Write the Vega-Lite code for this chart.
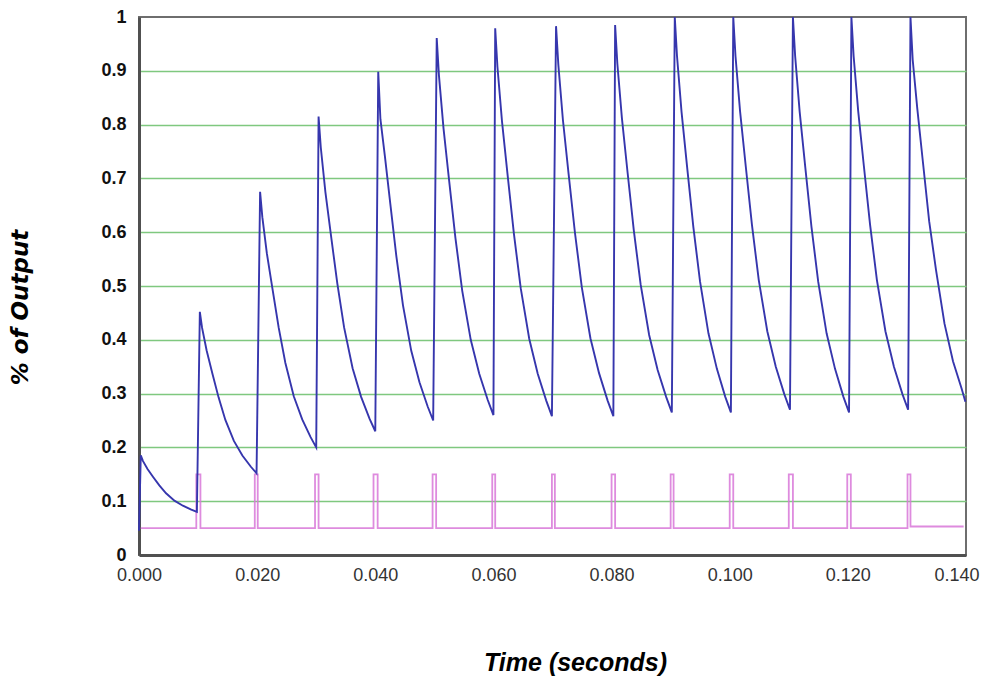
{
  "$schema": "https://vega.github.io/schema/vega-lite/v6.json",
  "width": 827,
  "height": 538,
  "autosize": "none",
  "padding": {"left": 139, "top": 17, "right": 15, "bottom": 122},
  "background": "white",
  "config": {
    "view": {"stroke": "#6e6e6e", "strokeWidth": 2},
    "axis": {"labelFont": "Liberation Sans", "titleFont": "Liberation Sans"}
  },
  "datasets": {
    "signal": [
      {"t": 0, "v": 0.045},
      {"t": 0.0003, "v": 0.185}, {"t": 0.00068, "v": 0.1745}, {"t": 0.00144, "v": 0.1598}, {"t": 0.00239, "v": 0.1451}, {"t": 0.00344, "v": 0.1294}, {"t": 0.00458, "v": 0.1147}, {"t": 0.006, "v": 0.101}, {"t": 0.00743, "v": 0.0916}, {"t": 0.00885, "v": 0.0842}, {"t": 0.0098, "v": 0.08},
      {"t": 0.0103, "v": 0.452}, {"t": 0.01068, "v": 0.422}, {"t": 0.01145, "v": 0.38}, {"t": 0.01241, "v": 0.338}, {"t": 0.01347, "v": 0.293}, {"t": 0.01462, "v": 0.251}, {"t": 0.01606, "v": 0.212}, {"t": 0.0175, "v": 0.185}, {"t": 0.01894, "v": 0.164}, {"t": 0.0199, "v": 0.152},
      {"t": 0.0205, "v": 0.675}, {"t": 0.02088, "v": 0.628}, {"t": 0.02164, "v": 0.561}, {"t": 0.02259, "v": 0.495}, {"t": 0.02364, "v": 0.423}, {"t": 0.02478, "v": 0.357}, {"t": 0.0262, "v": 0.295}, {"t": 0.02763, "v": 0.252}, {"t": 0.02905, "v": 0.219}, {"t": 0.03, "v": 0.2},
      {"t": 0.0304, "v": 0.815}, {"t": 0.03078, "v": 0.757}, {"t": 0.03155, "v": 0.675}, {"t": 0.03251, "v": 0.593}, {"t": 0.03357, "v": 0.505}, {"t": 0.03472, "v": 0.423}, {"t": 0.03616, "v": 0.347}, {"t": 0.0376, "v": 0.294}, {"t": 0.03904, "v": 0.253}, {"t": 0.04, "v": 0.23},
      {"t": 0.0405, "v": 0.898}, {"t": 0.04087, "v": 0.81}, {"t": 0.04162, "v": 0.742}, {"t": 0.04255, "v": 0.652}, {"t": 0.04357, "v": 0.555}, {"t": 0.04469, "v": 0.464}, {"t": 0.04608, "v": 0.38}, {"t": 0.04748, "v": 0.321}, {"t": 0.04887, "v": 0.276}, {"t": 0.0498, "v": 0.25},
      {"t": 0.0504, "v": 0.961}, {"t": 0.05078, "v": 0.891}, {"t": 0.05155, "v": 0.793}, {"t": 0.05251, "v": 0.695}, {"t": 0.05357, "v": 0.589}, {"t": 0.05472, "v": 0.491}, {"t": 0.05616, "v": 0.4}, {"t": 0.0576, "v": 0.337}, {"t": 0.05904, "v": 0.288}, {"t": 0.06, "v": 0.26},
      {"t": 0.0603, "v": 0.979}, {"t": 0.06068, "v": 0.907}, {"t": 0.06145, "v": 0.806}, {"t": 0.06241, "v": 0.705}, {"t": 0.06347, "v": 0.597}, {"t": 0.06462, "v": 0.496}, {"t": 0.06606, "v": 0.402}, {"t": 0.0675, "v": 0.337}, {"t": 0.06894, "v": 0.287}, {"t": 0.0699, "v": 0.258},
      {"t": 0.0706, "v": 0.983}, {"t": 0.07099, "v": 0.911}, {"t": 0.07176, "v": 0.809}, {"t": 0.07273, "v": 0.708}, {"t": 0.0738, "v": 0.599}, {"t": 0.07497, "v": 0.497}, {"t": 0.07642, "v": 0.403}, {"t": 0.07788, "v": 0.338}, {"t": 0.07933, "v": 0.287}, {"t": 0.0803, "v": 0.258},
      {"t": 0.0806, "v": 0.985}, {"t": 0.08098, "v": 0.913}, {"t": 0.08175, "v": 0.812}, {"t": 0.08271, "v": 0.711}, {"t": 0.08377, "v": 0.603}, {"t": 0.08492, "v": 0.503}, {"t": 0.08636, "v": 0.409}, {"t": 0.0878, "v": 0.344}, {"t": 0.08924, "v": 0.294}, {"t": 0.0902, "v": 0.265},
      {"t": 0.0907, "v": 1.0}, {"t": 0.09108, "v": 0.927}, {"t": 0.09184, "v": 0.824}, {"t": 0.09279, "v": 0.721}, {"t": 0.09384, "v": 0.61}, {"t": 0.09498, "v": 0.508}, {"t": 0.0964, "v": 0.412}, {"t": 0.09783, "v": 0.346}, {"t": 0.09925, "v": 0.294}, {"t": 0.1002, "v": 0.265},
      {"t": 0.1006, "v": 1.0}, {"t": 0.10098, "v": 0.927}, {"t": 0.10175, "v": 0.825}, {"t": 0.10271, "v": 0.723}, {"t": 0.10377, "v": 0.613}, {"t": 0.10492, "v": 0.511}, {"t": 0.10636, "v": 0.416}, {"t": 0.1078, "v": 0.35}, {"t": 0.10924, "v": 0.299}, {"t": 0.1102, "v": 0.27},
      {"t": 0.1107, "v": 1.0}, {"t": 0.11108, "v": 0.927}, {"t": 0.11184, "v": 0.824}, {"t": 0.11279, "v": 0.721}, {"t": 0.11384, "v": 0.61}, {"t": 0.11498, "v": 0.508}, {"t": 0.1164, "v": 0.412}, {"t": 0.11783, "v": 0.346}, {"t": 0.11925, "v": 0.294}, {"t": 0.1202, "v": 0.265},
      {"t": 0.1206, "v": 1.0}, {"t": 0.12098, "v": 0.927}, {"t": 0.12175, "v": 0.825}, {"t": 0.12271, "v": 0.723}, {"t": 0.12377, "v": 0.613}, {"t": 0.12492, "v": 0.511}, {"t": 0.12636, "v": 0.416}, {"t": 0.1278, "v": 0.35}, {"t": 0.12924, "v": 0.299}, {"t": 0.1302, "v": 0.27},
      {"t": 0.1306, "v": 1.0}, {"t": 0.13098, "v": 0.92}, {"t": 0.13175, "v": 0.83}, {"t": 0.13271, "v": 0.73}, {"t": 0.13377, "v": 0.62}, {"t": 0.13492, "v": 0.53}, {"t": 0.13636, "v": 0.43}, {"t": 0.1378, "v": 0.36}, {"t": 0.13924, "v": 0.31}, {"t": 0.1399, "v": 0.285}
    ],
    "pulse": [
      {"t": 0.0003, "v": 0.05},
      {"t": 0.0097, "v": 0.05}, {"t": 0.0097, "v": 0.15}, {"t": 0.0104, "v": 0.15}, {"t": 0.0104, "v": 0.05},
      {"t": 0.0196, "v": 0.05}, {"t": 0.0196, "v": 0.15}, {"t": 0.0201, "v": 0.15}, {"t": 0.0201, "v": 0.05},
      {"t": 0.0298, "v": 0.05}, {"t": 0.0298, "v": 0.15}, {"t": 0.0304, "v": 0.15}, {"t": 0.0304, "v": 0.05},
      {"t": 0.0397, "v": 0.05}, {"t": 0.0397, "v": 0.15}, {"t": 0.0404, "v": 0.15}, {"t": 0.0404, "v": 0.05},
      {"t": 0.0497, "v": 0.05}, {"t": 0.0497, "v": 0.15}, {"t": 0.0503, "v": 0.15}, {"t": 0.0503, "v": 0.05},
      {"t": 0.0598, "v": 0.05}, {"t": 0.0598, "v": 0.15}, {"t": 0.0603, "v": 0.15}, {"t": 0.0603, "v": 0.05},
      {"t": 0.0699, "v": 0.05}, {"t": 0.0699, "v": 0.15}, {"t": 0.0704, "v": 0.15}, {"t": 0.0704, "v": 0.05},
      {"t": 0.08, "v": 0.05}, {"t": 0.08, "v": 0.15}, {"t": 0.0806, "v": 0.15}, {"t": 0.0806, "v": 0.05},
      {"t": 0.09, "v": 0.05}, {"t": 0.09, "v": 0.15}, {"t": 0.0905, "v": 0.15}, {"t": 0.0905, "v": 0.05},
      {"t": 0.1, "v": 0.05}, {"t": 0.1, "v": 0.15}, {"t": 0.1006, "v": 0.15}, {"t": 0.1006, "v": 0.05},
      {"t": 0.11, "v": 0.05}, {"t": 0.11, "v": 0.15}, {"t": 0.1107, "v": 0.15}, {"t": 0.1107, "v": 0.05},
      {"t": 0.1199, "v": 0.05}, {"t": 0.1199, "v": 0.15}, {"t": 0.1205, "v": 0.15}, {"t": 0.1205, "v": 0.05},
      {"t": 0.1301, "v": 0.05}, {"t": 0.1301, "v": 0.15}, {"t": 0.1306, "v": 0.15}, {"t": 0.1306, "v": 0.053},
      {"t": 0.1396, "v": 0.053}
    ]
  },
  "layer": [
    {
      "data": {"name": "pulse"},
      "mark": {"type": "line", "color": "#d877d8", "strokeWidth": 1.8, "opacity": 0.85},
      "encoding": {
        "x": {
          "field": "t", "type": "quantitative",
          "scale": {"domain": [0, 0.14], "nice": false, "zero": false},
          "axis": {
            "values": [0, 0.02, 0.04, 0.06, 0.08, 0.1, 0.12, 0.14],
            "format": ".3f",
            "grid": false,
            "ticks": false,
            "domainColor": "#505050",
            "domainWidth": 3,
            "labelFlush": false,
            "labelFontSize": 18,
            "labelColor": "#333333",
            "labelPadding": 11,
            "labelAlign": {"condition": {"test": "datum.value > 0.139", "value": "right"}, "value": "center"},
            "labelOffset": {"condition": {"test": "datum.value > 0.139", "value": 13}, "value": 0},
            "title": "Time (seconds)",
            "titleFontSize": 25,
            "titleFontWeight": "bold",
            "titleFontStyle": "italic",
            "titleColor": "#000000",
            "titleAnchor": null,
            "titleAlign": "center",
            "titleBaseline": "middle",
            "titleX": 436,
            "titleY": 107
          }
        },
        "y": {
          "field": "v", "type": "quantitative",
          "scale": {"domain": [0, 1], "nice": false},
          "axis": {
            "values": [0, 0.1, 0.2, 0.3, 0.4, 0.5, 0.6, 0.7, 0.8, 0.9, 1],
            "format": ".1~f",
            "grid": true,
            "gridColor": "#7fc87f",
            "gridWidth": 1.6,
            "gridOpacity": {"condition": {"test": "datum.value === 0 || datum.value === 1", "value": 0}, "value": 1},
            "ticks": false,
            "domainColor": "#505050",
            "domainWidth": 3,
            "labelFontSize": 18,
            "labelFontWeight": "bold",
            "labelColor": "#111111",
            "labelPadding": 13,
            "title": "% of Output",
            "titleFont": "DejaVu Sans",
            "titleFontSize": 23,
            "titleFontWeight": "bold",
            "titleFontStyle": "italic",
            "titleColor": "#000000",
            "titleAngle": -90,
            "titleAlign": "center",
            "titleBaseline": "middle",
            "titleX": -119,
            "titleY": 290
          }
        }
      }
    },
    {
      "data": {"name": "signal"},
      "mark": {"type": "line", "color": "#3636ad", "strokeWidth": 1.9},
      "encoding": {
        "x": {"field": "t", "type": "quantitative"},
        "y": {"field": "v", "type": "quantitative"}
      }
    }
  ]
}
